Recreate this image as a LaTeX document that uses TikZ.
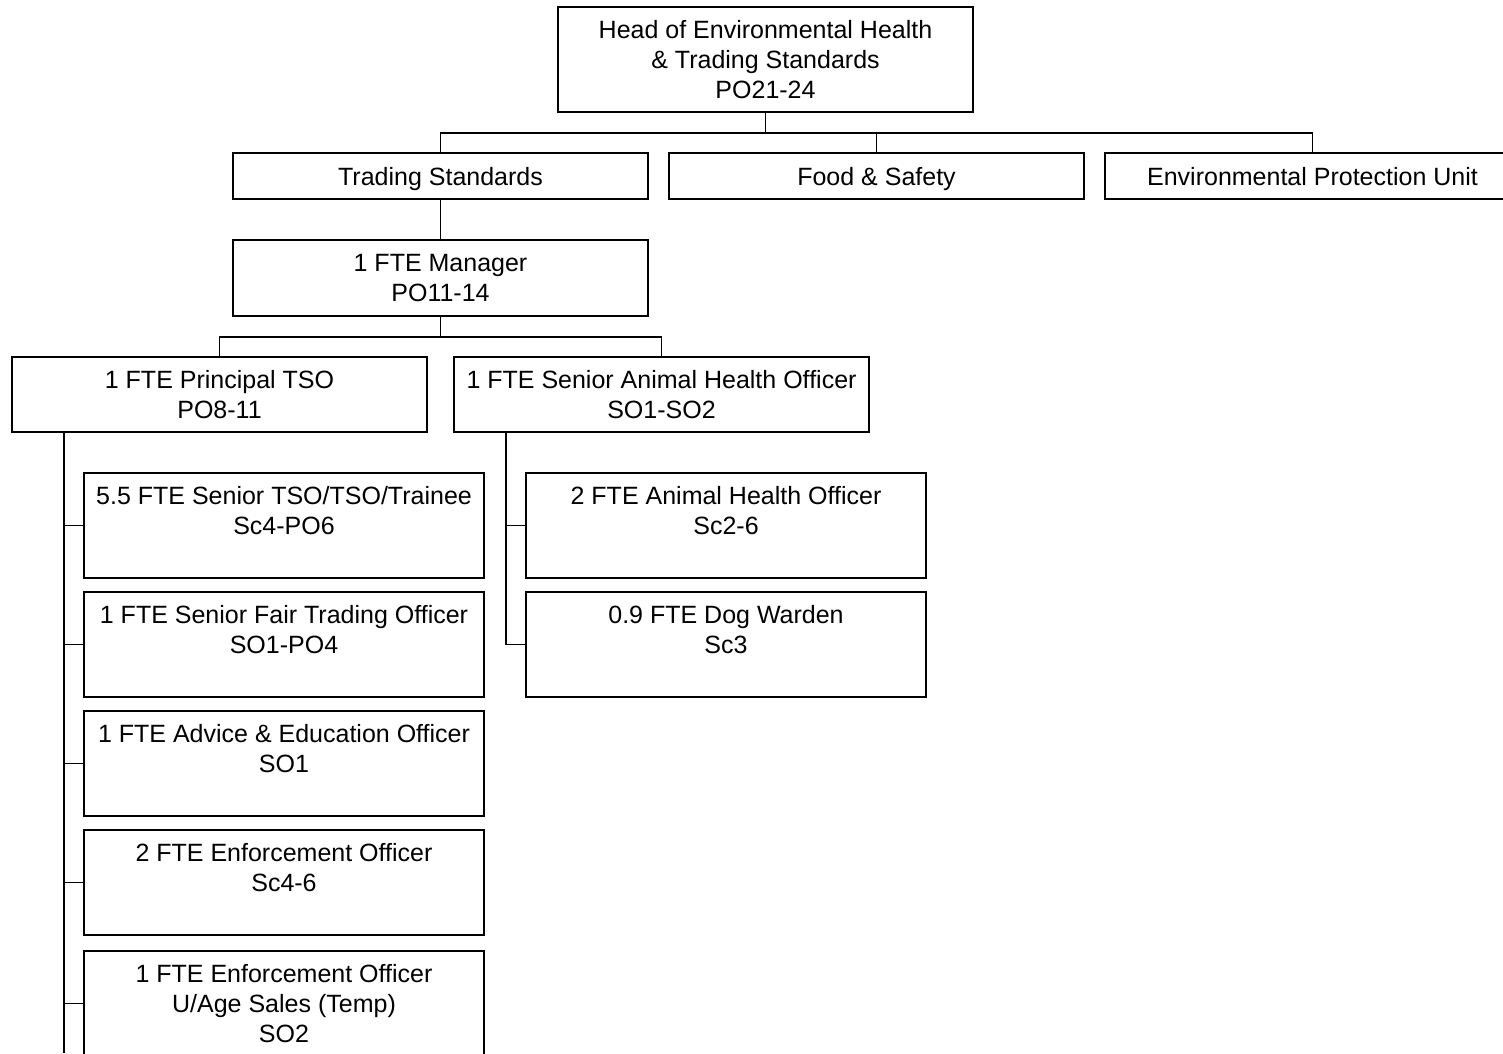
\documentclass[tikz,border=0pt]{standalone}
\usepackage{fontspec}
\setmainfont{Liberation Sans}
\usetikzlibrary{positioning}

\begin{document}
\begin{tikzpicture}[x=1pt, y=-1pt,
    every node/.style={font=\fontsize{25}{30}\selectfont},
    orgbox/.style={draw, line width=1.5pt, inner sep=0pt, align=center, minimum width=415pt},
    unitbox/.style={orgbox, minimum height=46pt, text height=18pt, text depth=0pt},
    staffbox/.style={orgbox, minimum width=400pt, minimum height=105pt}]
    \useasboundingbox (0,0) rectangle (1503,1053);
    % top
    \node[orgbox, minimum height=105pt] (head) at (765.5,59.5) {Head of Environmental Health\\\& Trading Standards\\PO21-24};
    \node[unitbox] (ts) at (440.5,176) {Trading Standards};
    \node[unitbox] (food) at (876.5,176) {Food \& Safety};
    \node[unitbox] (epu) at (1312.5,176) {Environmental Protection Unit};
    \coordinate (hbus) at (765.5,133);
    \draw[line width=1.5pt] (head.south) -- (hbus);
    \draw[line width=1.5pt] (ts.north) |- (hbus) -| (epu.north);
    \draw[line width=1.5pt] (food.north) -- (food.north |- hbus);
    % manager
    \node[orgbox, minimum height=76pt] (mgr) at (440.5,278) {1 FTE Manager\\PO11-14};
    \draw[line width=1.5pt] (ts.south) -- (mgr.north);
    \node[orgbox, minimum height=75pt] (ptso) at (219.5,394.5) {1 FTE Principal TSO\\PO8-11};
    \node[orgbox, minimum height=75pt] (saho) at (661.5,394.5) {1 FTE Senior Animal Health Officer\\SO1-SO2};
    \coordinate (mbus) at (440.5,337);
    \draw[line width=1.5pt] (mgr.south) -- (mbus);
    \draw[line width=1.5pt] (ptso.north) |- (mbus) -| (saho.north);
    % trading standards staff
    \node[staffbox] (tso) at (284,525.5) {5.5 FTE Senior TSO/TSO/Trainee\\Sc4-PO6\\\mbox{}};
    \node[staffbox] (sfto) at (284,644.5) {1 FTE Senior Fair Trading Officer\\SO1-PO4\\\mbox{}};
    \node[staffbox] (aeo) at (284,763.5) {1 FTE Advice \& Education Officer\\SO1\\\mbox{}};
    \node[staffbox] (eo) at (284,882.5) {2 FTE Enforcement Officer\\Sc4-6\\\mbox{}};
    \node[staffbox] (uas) at (284,1003.5) {1 FTE Enforcement Officer\\U/Age Sales (Temp)\\SO2};
    \coordinate (pline) at (64,1053);
    \draw[line width=1.5pt] (ptso.south -| pline) -- (pline);
    \foreach \n in {tso,sfto,aeo,eo,uas}
        \draw[line width=1.5pt] (\n.west) -- (\n.west -| pline);
    % animal health staff
    \node[staffbox] (aho) at (726,525.5) {2 FTE Animal Health Officer\\Sc2-6\\\mbox{}};
    \node[staffbox] (dog) at (726,644.5) {0.9 FTE Dog Warden\\Sc3\\\mbox{}};
    \coordinate (sline) at (506,432);
    \draw[line width=1.5pt] (sline) |- (dog.west);
    \draw[line width=1.5pt] (aho.west) -- (aho.west -| sline);
\end{tikzpicture}
\end{document}
